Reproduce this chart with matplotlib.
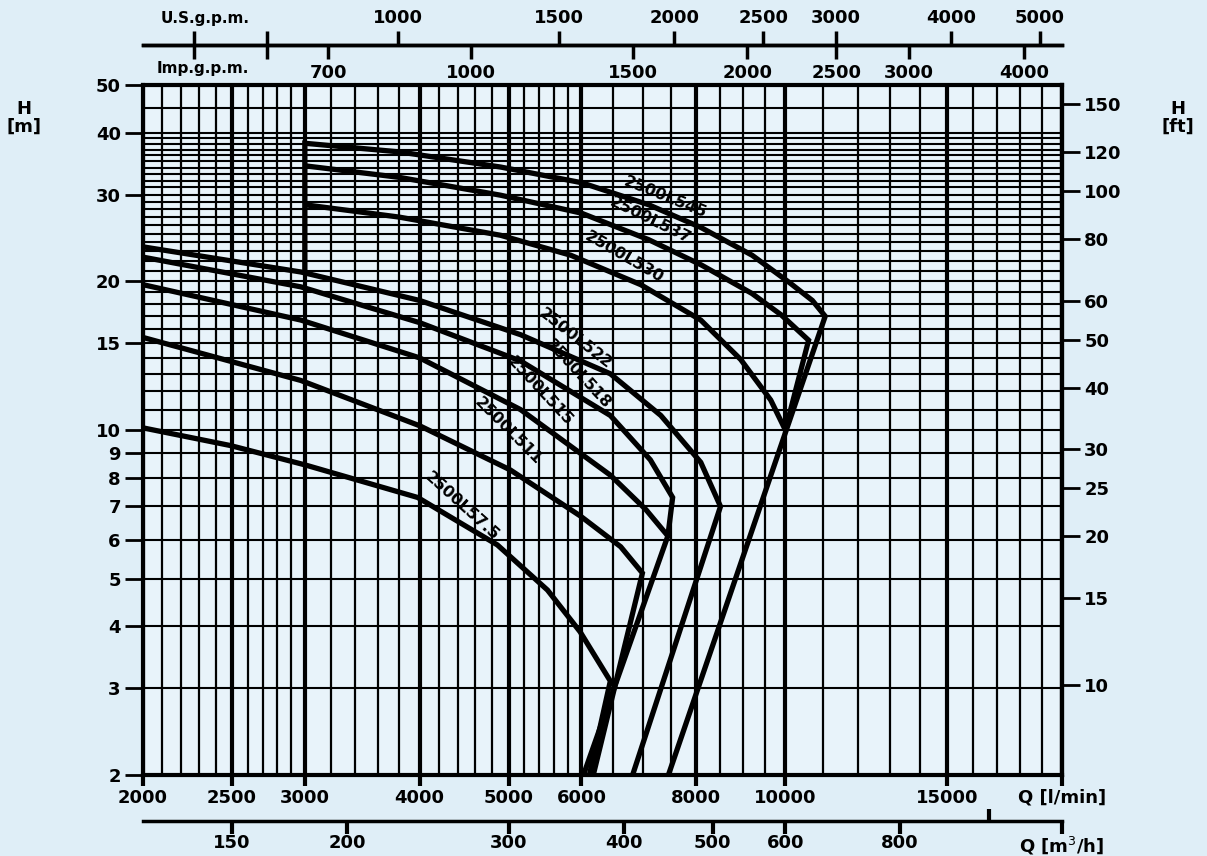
import numpy as np
import matplotlib.pyplot as plt

# head curves, Q in l/min, H in m (last points are the run-out lines)
q_545 = [3000, 3000, 3800, 4900, 6000, 7100, 8100, 9200, 10100, 10700, 11050, 7460]
h_545 = [20.8, 38.1, 36.6, 34.1, 31.7, 28.6, 25.7, 22.6, 19.9, 18.3, 17.0, 2.0]
q_537 = [3000, 3800, 4900, 6000, 7100, 8100, 9200, 9900, 10600, 10000]
h_537 = [34.3, 32.5, 29.9, 27.5, 24.3, 21.6, 18.9, 17.1, 15.2, 10.0]
q_530 = [3000, 3800, 4900, 5840, 6960, 8090, 8940, 9640, 10000]
h_530 = [28.6, 27.0, 24.8, 22.6, 19.7, 16.7, 13.9, 11.5, 10.0]
q_522 = [2000, 2970, 4000, 5150, 6450, 7320, 8090, 8500, 6820]
h_522 = [23.5, 20.9, 18.3, 15.6, 13.0, 10.7, 8.6, 7.0, 2.0]
q_518 = [2000, 2970, 4000, 5150, 6450, 7130, 7540, 7450, 6030]
h_518 = [22.4, 19.5, 16.5, 13.8, 10.7, 8.7, 7.3, 6.1, 2.0]
q_515 = [2000, 2970, 4000, 5150, 6450, 7050, 7450]
h_515 = [19.7, 16.7, 14.0, 11.0, 8.1, 6.9, 6.1]
q_511 = [2000, 2970, 4000, 5020, 5980, 6620, 6990, 6180]
h_511 = [15.4, 12.6, 10.2, 8.3, 6.7, 5.8, 5.13, 2.0]
q_575 = [2000, 2490, 3000, 3980, 4860, 5510, 5980, 6450, 6120]
h_575 = [10.1, 9.3, 8.5, 7.3, 5.85, 4.74, 3.9, 3.1, 2.0]

curves = [(q_545, h_545), (q_537, h_537), (q_530, h_530), (q_522, h_522),
          (q_518, h_518), (q_515, h_515), (q_511, h_511), (q_575, h_575)]

names = ["2500L545", "2500L537", "2500L530", "2500L522",
         "2500L518", "2500L515", "2500L511", "2500L57.5"]
label_q = [7400, 7130, 6670, 5910, 5950, 5410, 4990, 4450]
label_h = [29.6, 26.6, 22.4, 15.3, 13.0, 12.0, 9.95, 7.0]
label_rot = [-22, -26, -30, -38, -47, -47, -45, -42]

q_ticks = [2000, 2500, 3000, 4000, 5000, 6000, 8000, 10000, 15000, 20000]
q_labels = ["2000", "2500", "3000", "4000", "5000", "6000", "8000", "10000", "15000", "Q [l/min]"]
h_ticks = [2, 3, 4, 5, 6, 7, 8, 9, 10, 15, 20, 30, 40, 50]
ft_ticks = [10, 15, 20, 25, 30, 40, 50, 60, 80, 100, 120, 150]
m3h_ticks = [150, 200, 300, 400, 500, 600, 800, 1200]
m3h_labels = ["150", "200", "300", "400", "500", "600", "800", "Q [m$^3$/h]"]
us_ticks = [1000, 1500, 2000, 2500, 3000, 4000, 5000]
imp_ticks = [700, 1000, 1500, 2000, 2500, 3000, 4000]
imp_minor = [500, 600]

BG = "#dfeef7"
fig = plt.figure(figsize=(12.07, 8.56), dpi=100, facecolor=BG)
ax = fig.add_axes([143 / 1207, 1 - 775 / 856, 919 / 1207, 690 / 856])
ax.set_facecolor("#e8f3fa")
ax.set_xscale("log")
ax.set_yscale("log")
ax.set_xlim(2000, 20000)
ax.set_ylim(2, 50)

# paper grid
vthin = np.concatenate([np.arange(2000, 3000, 100), np.arange(3000, 6000, 200),
                        np.arange(6000, 10000, 500), np.arange(10000, 20001, 1000)])
ax.vlines(vthin, 0, 1, transform=ax.get_xaxis_transform(), color="black", lw=1.6, zorder=1)
ax.vlines(q_ticks, 0, 1, transform=ax.get_xaxis_transform(), color="black", lw=3.0, zorder=1)
hgrid = np.concatenate([np.arange(2, 41, 1), [45, 50]])
ax.hlines(hgrid, 0, 1, transform=ax.get_yaxis_transform(), color="black", lw=1.5, zorder=1)

for q, h in curves:
    ax.plot(q, h, color="black", lw=3.8, solid_joinstyle="miter", solid_capstyle="butt", zorder=3)

for name, lq, lh, r in zip(names, label_q, label_h, label_rot):
    ax.text(lq, lh, name, rotation=r, ha="center", va="center", fontsize=11.5,
            fontweight="semibold", rotation_mode="anchor", zorder=4)

bold = dict(fontsize=13, fontweight="bold")
nofmt = plt.NullFormatter()
for s in ax.spines.values():
    s.set_linewidth(3)

ax.set_xticks(q_ticks)
ax.set_xticklabels(q_labels, **bold)
ax.xaxis.set_minor_locator(plt.NullLocator())
ax.tick_params(axis="x", which="major", length=8, width=3, pad=2)
ax.set_yticks(h_ticks)
ax.set_yticklabels([str(v) for v in h_ticks], **bold)
ax.yaxis.set_minor_locator(plt.NullLocator())
ax.tick_params(axis="y", which="major", length=13, width=2, pad=3)

# feet on the right
ft = ax.secondary_yaxis("right", functions=(lambda m: m / 0.3048, lambda f: f * 0.3048))
ft.set_yticks(ft_ticks)
ft.set_yticklabels([str(v) for v in ft_ticks], **bold)
ft.yaxis.set_minor_locator(plt.NullLocator())
ft.tick_params(axis="y", length=13, width=2, pad=3)
ft.spines["right"].set_linewidth(3)

# m3/h below
m3 = ax.secondary_xaxis(-0.066, functions=(lambda q: q * 0.06, lambda v: v / 0.06))
m3.set_xticks(m3h_ticks)
m3.set_xticklabels(m3h_labels, **bold)
m3.set_xticks([1000, 1200], minor=True)
m3.xaxis.set_minor_formatter(nofmt)
m3.tick_params(axis="x", which="major", length=9, width=3, pad=1)
m3.tick_params(axis="x", which="minor", direction="in", length=9, width=3)
m3.spines["bottom"].set_linewidth(2.5)

# gallons per minute on top
top = 1 + 40 / 690
us = ax.secondary_xaxis(top, functions=(lambda q: q / 3.785, lambda g: g * 3.785))
us.set_xticks(us_ticks)
us.set_xticklabels([str(v) for v in us_ticks], **bold)
us.xaxis.set_minor_locator(plt.NullLocator())
us.xaxis.set_minor_formatter(nofmt)
us.tick_params(axis="x", length=10, width=2.5, pad=3)
us.spines["top"].set_linewidth(2.5)

imp = ax.secondary_xaxis(top, functions=(lambda q: q / 4.546, lambda g: g * 4.546))
imp.set_alignment("bottom")
imp.set_xticks(imp_ticks)
imp.set_xticklabels([str(v) for v in imp_ticks], **bold)
imp.set_xticks(imp_minor, minor=True)
imp.xaxis.set_minor_formatter(nofmt)
imp.tick_params(axis="x", which="major", length=10, width=2.5, pad=4)
imp.tick_params(axis="x", which="minor", direction="inout", length=20, width=2.5)
imp.spines["bottom"].set_linewidth(2.5)

fig.text(205 / 1207, 1 - 18 / 856, "U.S.g.p.m.", ha="center", va="center", fontsize=11, fontweight="bold")
fig.text(203 / 1207, 1 - 68 / 856, "Imp.g.p.m.", ha="center", va="center", fontsize=11, fontweight="bold")
fig.text(24 / 1207, 1 - 118 / 856, "H\n[m]", ha="center", va="center", fontsize=13, fontweight="bold",
         linespacing=1.0)
fig.text(1178 / 1207, 1 - 118 / 856, "H\n[ft]", ha="center", va="center", fontsize=13, fontweight="bold",
         linespacing=1.0)

fig.savefig("out.png", dpi=100, facecolor=BG)
